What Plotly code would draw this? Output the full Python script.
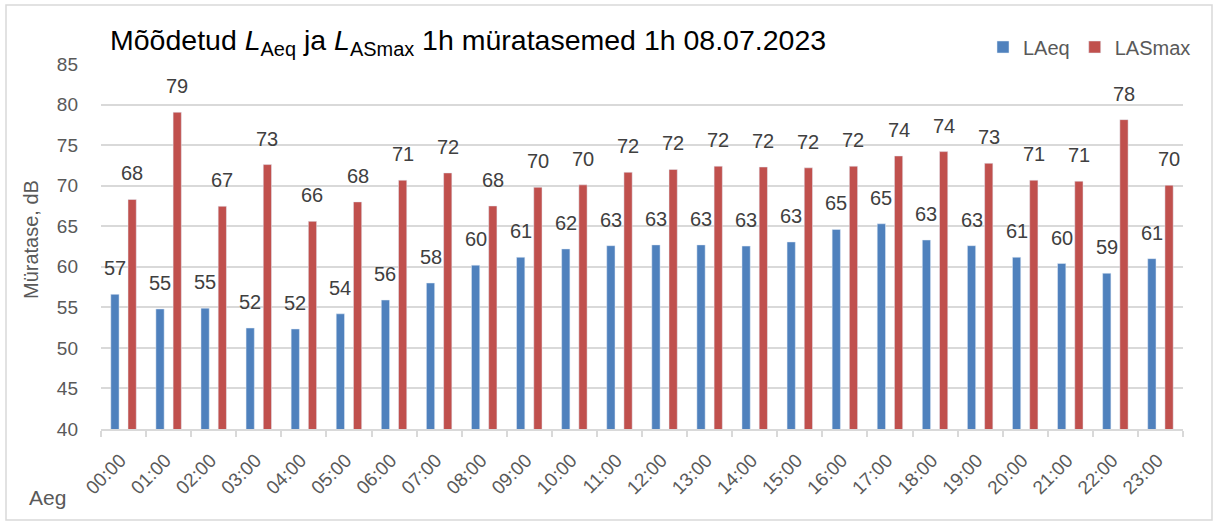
import plotly.graph_objects as go

hours = ["00:00","01:00","02:00","03:00","04:00","05:00","06:00","07:00","08:00","09:00","10:00","11:00",
         "12:00","13:00","14:00","15:00","16:00","17:00","18:00","19:00","20:00","21:00","22:00","23:00"]
laeq = [56.6, 54.8, 54.9, 52.45, 52.33, 54.2, 55.9, 58.0, 60.2, 61.17, 62.2, 62.6,
        62.7, 62.7, 62.55, 63.06, 64.6, 65.3, 63.3, 62.6, 61.17, 60.4, 59.2, 61.0]
lasmax = [68.3, 79.05, 67.46, 72.6, 65.6, 68.0, 70.67, 71.57, 67.5, 69.8, 70.1, 71.65,
          72.0, 72.4, 72.3, 72.2, 72.4, 73.66, 74.2, 72.76, 70.67, 70.55, 78.14, 70.05]

FONT = "Liberation Sans, Arial, sans-serif"
BLUE = "#4F81BD"
RED = "#C0504D"
GRID = "#D9D9D9"
TXT = "#595959"

L, R, T, B = 101, 34, 64, 96
PW, PH = 1217 - L - R, 525 - T - B


def px(xp):
    return (xp - L) / PW


def py(yp):
    return (525 - B - yp) / PH


def rnd(v):
    return str(int(v + 0.5))


fig = go.Figure()
fig.add_trace(go.Bar(x=hours, y=laeq, name="LAeq", marker_color=BLUE))
fig.add_trace(go.Bar(x=hours, y=lasmax, name="LASmax", marker_color=RED))

anns = []
for series, shift in ((laeq, -8.6), (lasmax, 8.6)):
    for h, v in zip(hours, series):
        anns.append(dict(x=h, y=v, xref="x", yref="y", text=rnd(v), showarrow=False,
                         xshift=shift, yshift=26, yanchor="middle", xanchor="center",
                         font=dict(family=FONT, size=20, color="#404040")))

anns.append(dict(x=px(31), y=py(240), xref="paper", yref="paper", text="Müratase, dB",
                 textangle=-90, showarrow=False, xanchor="center", yanchor="middle",
                 font=dict(family=FONT, size=20, color=TXT)))
anns.append(dict(x=px(47), y=py(497), xref="paper", yref="paper", text="Aeg",
                 showarrow=False, xanchor="center", yanchor="middle",
                 font=dict(family=FONT, size=21, color=TXT)))

fig.update_layout(
    width=1217, height=525,
    margin=dict(l=L, r=R, t=T, b=B, autoexpand=False),
    paper_bgcolor="white", plot_bgcolor="white",
    font=dict(family=FONT, color=TXT),
    title=dict(text="Mõõdetud <i>L</i><sub>Aeq</sub> ja <i>L</i><sub>ASmax</sub> 1h müratasemed 1h 08.07.2023",
               x=110/1217, xanchor="left", y=1-40/525, yanchor="middle",
               font=dict(family=FONT, size=28.5, color="#000000")),
    barmode="group", bargap=0.237, bargroupgap=0.52,
    showlegend=True,
    legend=dict(orientation="h", x=px(1196), xanchor="right", y=py(47), yanchor="middle",
                font=dict(family=FONT, size=20, color=TXT), bgcolor="rgba(0,0,0,0)",
                itemwidth=30, traceorder="normal"),
    annotations=anns,
    xaxis=dict(type="category", showgrid=False, showline=True, linecolor=GRID, linewidth=1.5,
               ticks="outside", tickson="boundaries", ticklen=6, tickcolor=GRID, tickwidth=1.5,
               tickangle=-45, ticklabelstandoff=11, ticklabelshift=-3,
               tickfont=dict(family=FONT, size=19, color=TXT), automargin=False),
    yaxis=dict(range=[40, 85], dtick=5, showgrid=True, gridcolor=GRID, gridwidth=1.5,
               zeroline=False, showline=False, ticks="", ticklabelstandoff=22,
               tickfont=dict(family=FONT, size=19, color=TXT), automargin=False),
    shapes=[dict(type="rect", xref="paper", yref="paper",
                 x0=px(6), x1=px(1212), y0=py(520), y1=py(5),
                 line=dict(color=GRID, width=1.5), fillcolor="rgba(0,0,0,0)", layer="below")],
)

fig.write_html("out.html", config={"displayModeBar": False},
               post_script="document.body.style.margin='0';")
